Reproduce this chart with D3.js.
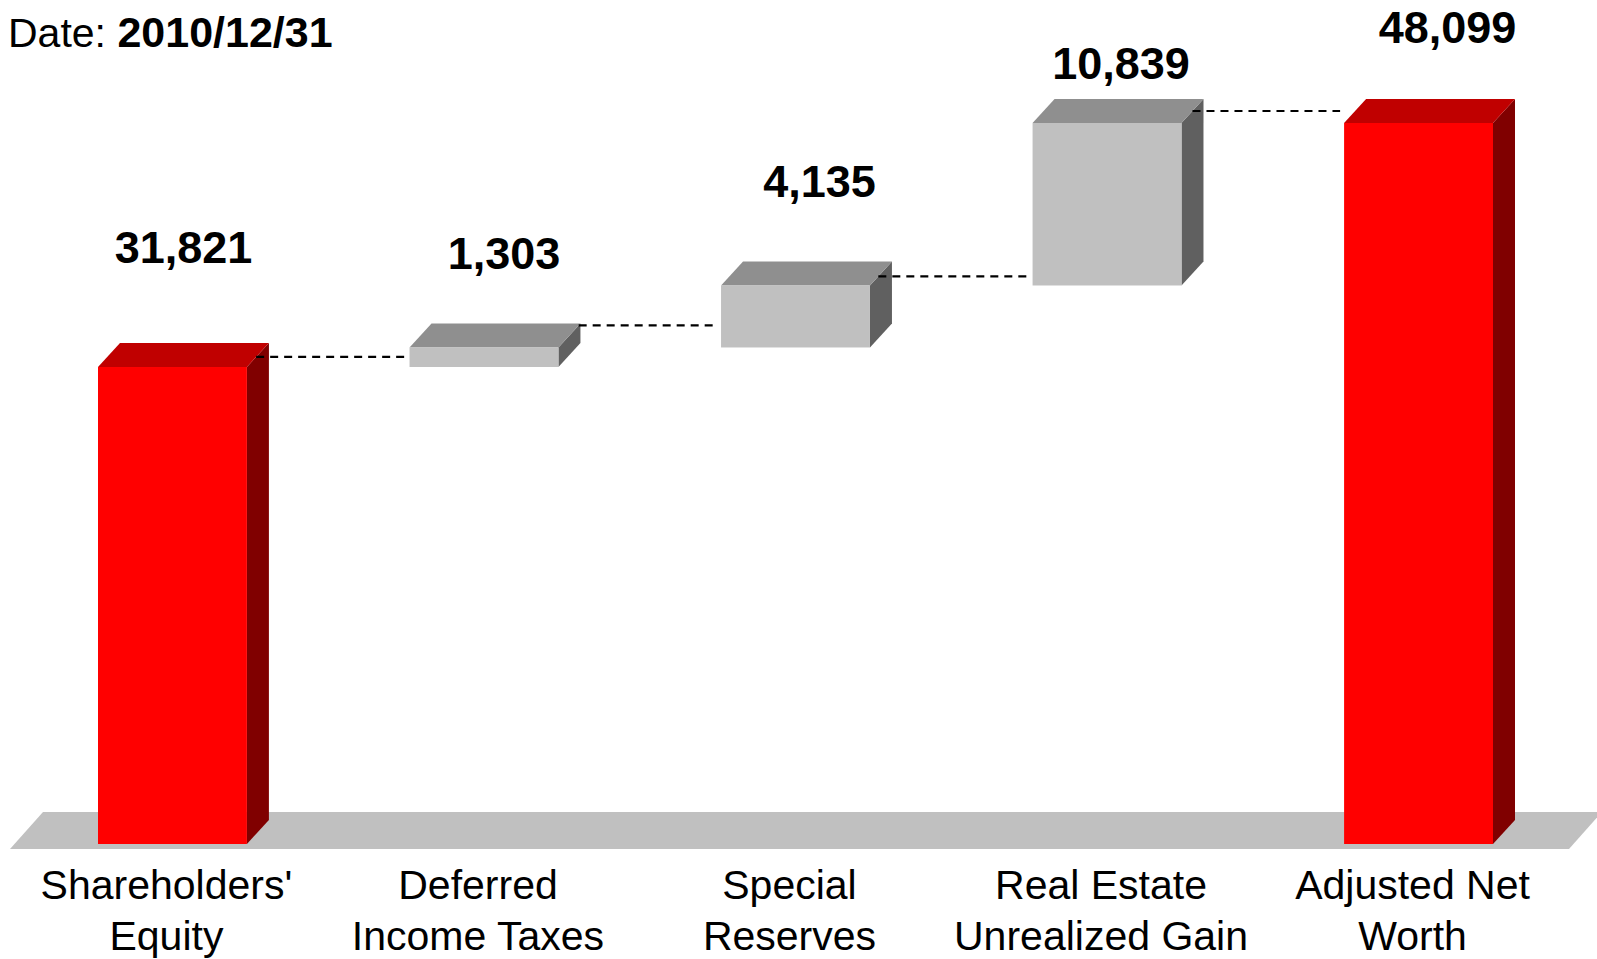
<!DOCTYPE html>
<html>
<head>
<meta charset="utf-8">
<script src="https://cdn.jsdelivr.net/npm/d3@7"></script>
<style>
  html, body { margin: 0; padding: 0; background: #fff; }
  svg { display: block; font-family: Arial, "Liberation Sans", sans-serif; }
</style>
</head>
<body>
<svg id="chart" width="1597" height="959"></svg>
<script>
// ---- data ----
const categories = ["Shareholders' Equity", "Deferred Income Taxes", "Special Reserves", "Real Estate Unrealized Gain", "Adjusted Net Worth"];
const categoryLines = [["Shareholders'", "Equity"], ["Deferred", "Income Taxes"], ["Special", "Reserves"], ["Real Estate", "Unrealized Gain"], ["Adjusted Net", "Worth"]];
const values = [31821, 1303, 4135, 10839, 48099];
const barKinds = ["total", "delta", "delta", "delta", "total"];
const titleLabel = "Date: ";
const titleDate = "2010/12/31";

// ---- layout / style (not data) ----
const W = 1597, H = 959;
const depthX = 22, depthY = 24;
const labelGap = [80, 54, 64, 20, 56];        // manual label placement above bar back edge
const labelShiftX = [0, 9, 13, 3, 18];
const connectorDepth = [0.42, 0.92, 0.38, 0.5];
const colors = {
  total: { front: "#FF0000", top: "#C00000", side: "#800000" },
  delta: { front: "#C0C0C0", top: "#8F8F8F", side: "#606060" }
};

const svg = d3.select("#chart");

const x = d3.scaleBand().domain(categories).range([98, 1493]).paddingInner(0.522).paddingOuter(0);
const y = d3.scaleLinear().domain([0, 50000]).range([844, 844 - 721 * 50000 / 48099]);

// running cumulative
let cum = 0;
const bars = categories.map((c, i) => {
  let start, end;
  if (barKinds[i] === "total") { start = 0; end = values[i]; cum = values[i]; }
  else { start = cum; end = cum + values[i]; cum = end; }
  return { cat: c, i, start, end, kind: barKinds[i], value: values[i] };
});

// floor
const x0 = x.range()[0], x1 = x.range()[1];
const floorTop = y(0) - 32, floorBot = y(0) + 5;
svg.append("path")
  .attr("d", `M${x0 - 88},${floorBot} L${x0 - 55},${floorTop} L${x1 + 109},${floorTop} L${x1 + 76},${floorBot} Z`)
  .attr("fill", "#C0C0C0");

// bars
const bw = x.bandwidth();
const g = svg.append("g");
bars.forEach(b => {
  const xl = x(b.cat), xr = xl + bw;
  const yt = y(b.end), yb = y(b.start);
  const col = colors[b.kind];
  g.append("path")
    .attr("d", `M${xr},${yt} L${xr + depthX},${yt - depthY} L${xr + depthX},${yb - depthY} L${xr},${yb} Z`)
    .attr("fill", col.side);
  g.append("path")
    .attr("d", `M${xl},${yt} L${xl + depthX},${yt - depthY} L${xr + depthX},${yt - depthY} L${xr},${yt} Z`)
    .attr("fill", col.top);
  g.append("rect")
    .attr("x", xl).attr("y", yt).attr("width", bw).attr("height", yb - yt)
    .attr("fill", col.front);
});

// connectors
for (let i = 0; i < bars.length - 1; i++) {
  const b = bars[i], n = bars[i + 1];
  const f = connectorDepth[i];
  const yy = y(b.end) - depthY * f;
  const xs = x(b.cat) + bw + depthX * f;
  const xe = x(n.cat) - 4;
  svg.append("line")
    .attr("x1", xs).attr("x2", xe).attr("y1", yy).attr("y2", yy)
    .attr("stroke", "#000").attr("stroke-width", 2.2)
    .attr("stroke-dasharray", "8,6");
}

// value labels
const fmt = d3.format(",");
svg.selectAll("text.val").data(bars).enter().append("text")
  .attr("class", "val")
  .attr("x", d => x(d.cat) + bw / 2 + depthX / 2 + labelShiftX[d.i])
  .attr("y", d => y(d.end) - depthY - labelGap[d.i])
  .attr("text-anchor", "middle")
  .attr("font-size", 45).attr("font-weight", "bold").attr("fill", "#000")
  .text(d => fmt(d.value));

// category labels
bars.forEach(b => {
  const t = svg.append("text")
    .attr("text-anchor", "middle")
    .attr("font-size", 41).attr("fill", "#000");
  categoryLines[b.i].forEach((ln, k) => {
    t.append("tspan")
      .attr("x", x(b.cat) + bw / 2 - 6)
      .attr("y", y(0) + 55 + k * 51)
      .text(ln);
  });
});

// title
const title = svg.append("text").attr("x", 8).attr("y", 47).attr("font-size", 41).attr("fill", "#000");
title.append("tspan").text(titleLabel);
title.append("tspan").attr("font-weight", "bold").attr("font-size", 43).text(titleDate);
</script>
</body>
</html>
